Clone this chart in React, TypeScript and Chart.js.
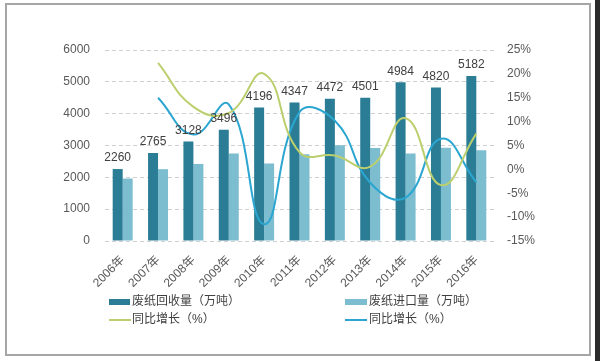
import React, { useEffect, useRef } from "react";
import { Chart, registerables } from "chart.js";

Chart.register(...registerables);

const years = ["2006年", "2007年", "2008年", "2009年", "2010年", "2011年", "2012年", "2013年", "2014年", "2015年", "2016年"];
const recycled = [2260, 2765, 3128, 3496, 4196, 4347, 4472, 4501, 4984, 4820, 5182];
const imported = [1962, 2256, 2421, 2750, 2435, 2728, 3007, 2924, 2752, 2928, 2850];
const recycledGrowth = [null, 22.3, 13.1, 11.8, 20.0, 3.6, 2.9, 0.6, 10.7, -3.3, 7.5];
const importedGrowth = [null, 15.0, 7.3, 13.6, -11.5, 12.0, 10.2, -2.8, -5.9, 6.4, -2.7];
const legendLabels = ["废纸回收量（万吨）", "废纸进口量（万吨）", "同比增长（%）", "同比增长（%）"];

const DARK = "#2a7d94";
const LIGHT = "#7dbdd0";
const GREEN = "#bccf6e";
const BLUE = "#2ba6d1";
const FONT = "'Liberation Sans', 'Noto Sans CJK SC', sans-serif";

export default function App() {
  const ref = useRef<HTMLCanvasElement | null>(null);
  useEffect(() => {
    if (!ref.current) return;
    const labelPlugin = {
      id: "valueLabels",
      afterDatasetsDraw(chart: any) {
        const ctx = chart.ctx;
        const meta = chart.getDatasetMeta(2);
        ctx.save();
        ctx.font = `12px ${FONT}`;
        ctx.fillStyle = "#404040";
        ctx.textAlign = "center";
        ctx.textBaseline = "bottom";
        meta.data.forEach((el: any, i: number) => {
          ctx.fillText(String(recycled[i]), el.x, el.y - 5);
        });
        ctx.restore();
      },
    };
    const legendPlugin = {
      id: "customLegend",
      afterDraw(chart: any) {
        const ctx = chart.ctx;
        ctx.save();
        ctx.font = `12px ${FONT}`;
        ctx.textAlign = "left";
        ctx.textBaseline = "middle";
        const cols = [109, 345];
        const rows = [302, 320];
        ctx.fillStyle = DARK;
        ctx.fillRect(cols[0], rows[0] - 3, 21, 6);
        ctx.fillStyle = LIGHT;
        ctx.fillRect(cols[1], rows[0] - 3, 22, 6);
        ctx.lineWidth = 2;
        ctx.strokeStyle = GREEN;
        ctx.beginPath();
        ctx.moveTo(cols[0], rows[1]);
        ctx.lineTo(cols[0] + 22, rows[1]);
        ctx.stroke();
        ctx.strokeStyle = BLUE;
        ctx.beginPath();
        ctx.moveTo(cols[1], rows[1]);
        ctx.lineTo(cols[1] + 22, rows[1]);
        ctx.stroke();
        ctx.fillStyle = "#404040";
        ctx.fillText(legendLabels[0], cols[0] + 23, rows[0]);
        ctx.fillText(legendLabels[1], cols[1] + 24, rows[0]);
        ctx.fillText(legendLabels[2], cols[0] + 23, rows[1]);
        ctx.fillText(legendLabels[3], cols[1] + 24, rows[1]);
        ctx.restore();
      },
    };
    const chart = new Chart(ref.current, {
      type: "bar",
      data: {
        labels: years,
        datasets: [
          {
            type: "line",
            label: legendLabels[2],
            data: recycledGrowth,
            yAxisID: "y1",
            borderColor: GREEN,
            backgroundColor: GREEN,
            borderWidth: 2,
            pointRadius: 0,
            tension: 0.45,
            order: 0,
          } as any,
          {
            type: "line",
            label: legendLabels[3],
            data: importedGrowth,
            yAxisID: "y1",
            borderColor: BLUE,
            backgroundColor: BLUE,
            borderWidth: 2,
            pointRadius: 0,
            tension: 0.45,
            order: 0,
          } as any,
          {
            label: legendLabels[0],
            data: recycled,
            yAxisID: "y",
            backgroundColor: DARK,
            categoryPercentage: 0.565,
            barPercentage: 1,
            order: 1,
          },
          {
            label: legendLabels[1],
            data: imported,
            yAxisID: "y",
            backgroundColor: LIGHT,
            categoryPercentage: 0.565,
            barPercentage: 1,
            order: 1,
          },
        ],
      },
      options: {
        animation: false,
        responsive: false,
        layout: { padding: { top: 50, left: 0, right: 0, bottom: 0 } },
        plugins: { legend: { display: false }, tooltip: { enabled: false } },
        scales: {
          x: {
            grid: { display: false },
            border: { display: false },
            ticks: {
              color: "#595959",
              font: { size: 12, family: FONT },
              minRotation: 45,
              maxRotation: 45,
              padding: 4,
            },
            afterFit(scale: any) {
              scale.height = 120;
            },
          },
          y: {
            position: "left",
            min: 0,
            max: 6000,
            ticks: {
              stepSize: 1000,
              color: "#595959",
              font: { size: 12, family: FONT },
              padding: 15,
              callback: (v: any) => String(v),
            },
            grid: { color: "#d0d0d0", drawTicks: false },
            border: { display: false, dash: [4, 3] },
            afterFit(scale: any) {
              scale.width = 105;
            },
          },
          y1: {
            position: "right",
            min: -15,
            max: 25,
            ticks: {
              stepSize: 5,
              color: "#595959",
              font: { size: 12, family: FONT },
              padding: 13,
              callback: (v: any) => `${v}%`,
            },
            grid: { display: false, drawTicks: false },
            border: { display: false },
            afterFit(scale: any) {
              scale.width = 106;
            },
          },
        },
      },
      plugins: [labelPlugin, legendPlugin],
    });
    return () => chart.destroy();
  }, []);

  return (
    <div style={{ position: "absolute", left: 0, top: 0, width: 600, height: 361, background: "#ffffff", overflow: "hidden" }}>
      <div style={{ position: "absolute", left: 5, top: 3, width: 582, height: 349, border: "2px solid #a6a6a6" }} />
      <div style={{ position: "absolute", left: 595, top: 0, width: 5, height: 361, background: "#2a2a2a" }} />
      <canvas ref={ref} width={600} height={361} style={{ position: "absolute", left: 0, top: 0 }} />
    </div>
  );
}
